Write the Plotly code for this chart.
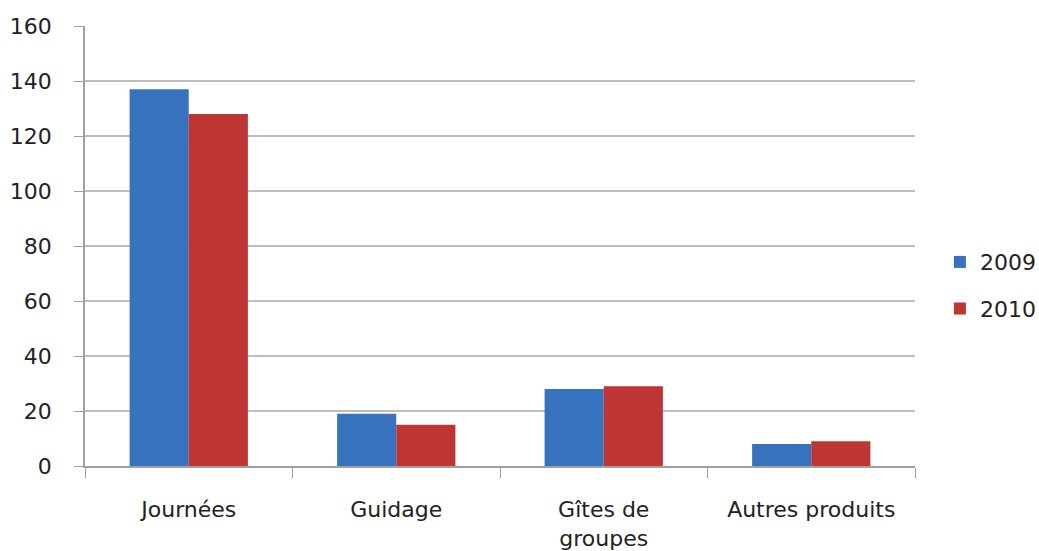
import plotly.graph_objects as go

# Data
categories = ["Journées", "Guidage", "Gîtes de<br>groupes", "Autres produits"]
values_2009 = [137, 19, 28, 8]
values_2010 = [128, 15, 29, 9]
series_names = ["2009", "2010"]
y_ticks = [0, 20, 40, 60, 80, 100, 120, 140, 160]

BLUE = "#3672BD"
RED = "#BD3634"
GRID = "#BEBEBE"
FONT = "DejaVu Sans"

fig = go.Figure()

fig.add_trace(go.Bar(
    x=categories, y=values_2009, name=series_names[0],
    marker=dict(color=BLUE, line=dict(width=0)),
    legendgroup="a",
))
fig.add_trace(go.Bar(
    x=categories, y=values_2010, name=series_names[1],
    marker=dict(color=RED, line=dict(width=0)),
    legendgroup="b",
))

fig.update_layout(
    width=1039, height=551,
    margin=dict(l=85, r=124, t=26, b=85, autoexpand=False),
    paper_bgcolor="white", plot_bgcolor="white",
    barmode="group", bargap=0.43, bargroupgap=0,
    font=dict(family=FONT, size=22, color="#222222"),
    legend=dict(
        x=1.03, y=0.41, xanchor="left", yanchor="middle",
        font=dict(family=FONT, size=22, color="#222222"),
        tracegroupgap=15, itemwidth=30,
    ),
    showlegend=True,
)

fig.update_yaxes(
    range=[0, 160], tickvals=y_ticks, automargin=False,
    showgrid=True, gridcolor=GRID, gridwidth=1.5,
    showline=True, linecolor="#A0A0A0", linewidth=1.5,
    ticks="outside", ticklen=9, tickcolor="#A0A0A0",
    ticklabelstandoff=18, zeroline=False,
)
fig.update_xaxes(
    automargin=False,
    showline=True, linecolor="#A0A0A0", linewidth=1.5,
    ticks="outside", ticklen=10, tickcolor="#A0A0A0",
    tickson="boundaries", ticklabelstandoff=23,
)

# page body has a default 8px margin; drop it so the figure fills the window
fig.write_html(
    "out.html",
    config={"displayModeBar": False},
    post_script="document.body.style.margin='0';",
)
